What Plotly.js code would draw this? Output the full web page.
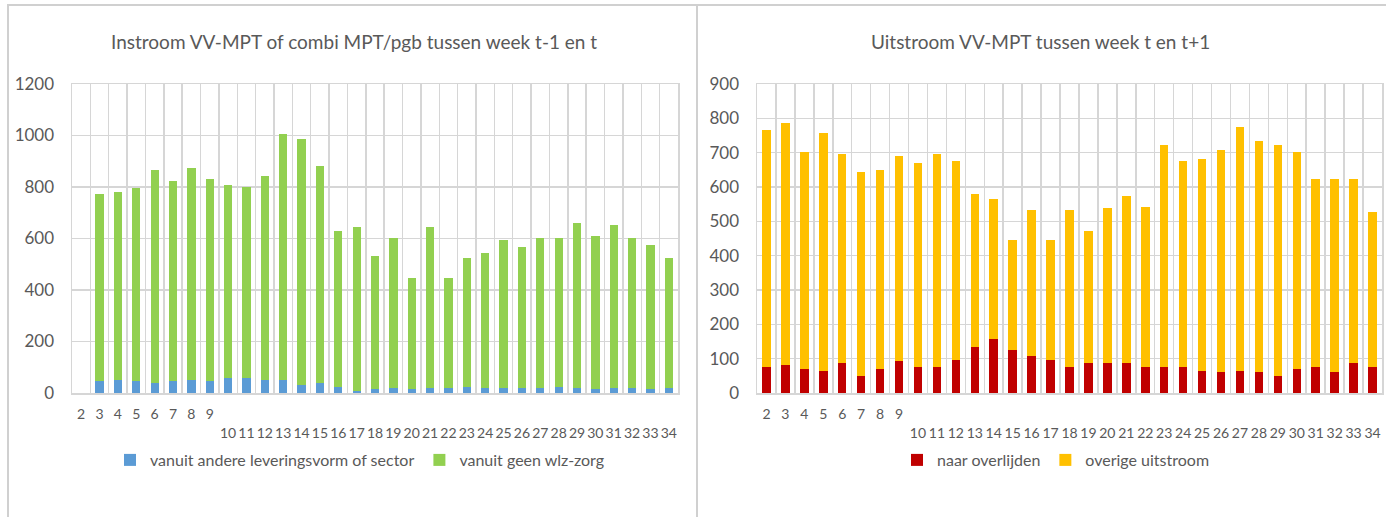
<!DOCTYPE html>
<html>
<head>
<meta charset="utf-8">
<script src="https://cdn.plot.ly/plotly-3.0.1.min.js"></script>
<style>
html,body{margin:0;padding:0;background:#fff;}
#chart{width:1386px;height:517px;}
</style>
</head>
<body>
<div id="chart"></div>
<script>
// Weeks (categories)
const weeks = ["2","3","4","5","6","7","8","9","10","11","12","13","14","15","16","17","18","19","20","21","22","23","24","25","26","27","28","29","30","31","32","33","34"];
// Tick labels: Excel staggers 10..34 onto a second row
const weekLabels = ["2","3","4","5","6","7","8","9"," <br>10"," <br>11"," <br>12"," <br>13"," <br>14"," <br>15"," <br>16"," <br>17"," <br>18"," <br>19"," <br>20"," <br>21"," <br>22"," <br>23"," <br>24"," <br>25"," <br>26"," <br>27"," <br>28"," <br>29"," <br>30"," <br>31"," <br>32"," <br>33"," <br>34"];

// Left chart: Instroom
const vanuitAndere = [0,47,50,47,39,47,50,47,58,58,50,50,32,39,25,8,14,19,14,19,19,25,19,19,19,19,25,19,14,19,19,14,19];
const vanuitGeen   = [0,725,731,750,827,777,823,784,751,743,794,957,954,841,604,637,520,584,434,626,429,499,525,576,549,582,576,643,596,633,582,561,505];

// Right chart: Uitstroom
const naarOverlijden  = [77,82,70,65,88,50,70,93,77,77,97,134,156,124,107,97,77,88,88,88,77,77,77,65,60,65,60,50,70,77,60,88,77];
const overigeUitstroom = [689,705,632,691,608,594,579,597,594,619,578,445,409,323,427,350,457,383,451,487,465,645,598,616,647,710,673,672,632,546,563,535,449];

const FONT = 'Lato, "Open Sans", sans-serif';
const GRAY = '#595959';
const GRID = '#d6d6d6';

const traces = [
  {type:'bar', x:weeks, y:vanuitAndere, name:'vanuit andere leveringsvorm of sector', marker:{color:'#5B9BD5'}, xaxis:'x', yaxis:'y', legend:'legend'},
  {type:'bar', x:weeks, y:vanuitGeen, name:'vanuit geen wlz-zorg', marker:{color:'#92D050'}, xaxis:'x', yaxis:'y', legend:'legend'},
  {type:'bar', x:weeks, y:naarOverlijden, name:'naar overlijden', marker:{color:'#C00000'}, xaxis:'x2', yaxis:'y2', legend:'legend2'},
  {type:'bar', x:weeks, y:overigeUitstroom, name:'overige uitstroom', marker:{color:'#FFC000'}, xaxis:'x2', yaxis:'y2', legend:'legend2'}
];

function xax(domain, anchor){
  return {
    domain: domain, anchor: anchor, type:'category',
    tickmode:'array', tickvals: weeks, ticktext: weekLabels,
    tickson:'boundaries', ticks:'', showgrid:true, gridcolor:GRID, gridwidth:1.5,
    showline:true, linecolor:GRID, linewidth:1.5, mirror:true,
    tickfont:{family:FONT, size:14, color:GRAY}, tickangle:0,
    ticklabelstandoff: 8, fixedrange:true
  };
}
function yax(domain, anchor, max, dtick){
  return {
    domain: domain, anchor: anchor, range:[0,max], dtick:dtick,
    showgrid:true, gridcolor:GRID, gridwidth:1.5, zeroline:false,
    showline:true, linecolor:GRID, linewidth:1.5, mirror:true,
    ticks:'', tickfont:{family:FONT, size:17, color:GRAY},
    ticklabelstandoff: 13, fixedrange:true
  };
}

const yd = [1-393/517, 1-84/517];
const layout = {
  width:1386, height:517,
  margin:{l:0,r:0,t:0,b:0},
  paper_bgcolor:'#fff', plot_bgcolor:'#fff',
  barmode:'stack', bargap:0.55,
  font:{family:FONT, color:GRAY},
  xaxis: xax([72/1386, 678/1386], 'y'),
  yaxis: yax(yd, 'x', 1200, 200),
  xaxis2: xax([757/1386, 1382/1386], 'y2'),
  yaxis2: yax(yd, 'x2', 900, 100),
  showlegend:true,
  legend:{orientation:'h', x:360/1386, xanchor:'center', y:1-460/517, yanchor:'middle',
          font:{family:FONT, size:16, color:GRAY}, traceorder:'normal', itemwidth:30, itemsizing:'constant'},
  legend2:{orientation:'h', x:1056/1386, xanchor:'center', y:1-460/517, yanchor:'middle',
          font:{family:FONT, size:16, color:GRAY}, traceorder:'normal', itemwidth:30, itemsizing:'constant'},
  annotations:[
    {text:'Instroom VV-MPT of combi MPT/pgb tussen week t-1 en t', xref:'paper', yref:'paper',
     x:354/1386, y:1-41/517, xanchor:'center', yanchor:'middle', showarrow:false,
     font:{family:FONT, size:19, color:GRAY}},
    {text:'Uitstroom VV-MPT tussen week t en t+1', xref:'paper', yref:'paper',
     x:1040/1386, y:1-41/517, xanchor:'center', yanchor:'middle', showarrow:false,
     font:{family:FONT, size:19, color:GRAY}}
  ],
  shapes:[
    {type:'rect', xref:'paper', yref:'paper', x0:8/1386, x1:697/1386, y0:-0.05, y1:1-5/517,
     line:{color:'#d0d0d0', width:2}, fillcolor:'rgba(0,0,0,0)', layer:'below'},
    {type:'rect', xref:'paper', yref:'paper', x0:697/1386, x1:1.01, y0:-0.05, y1:1-5/517,
     line:{color:'#d0d0d0', width:2}, fillcolor:'rgba(0,0,0,0)', layer:'below'}
  ]
};

Plotly.newPlot('chart', traces, layout, {displayModeBar:false, staticPlot:true});
</script>
</body>
</html>
